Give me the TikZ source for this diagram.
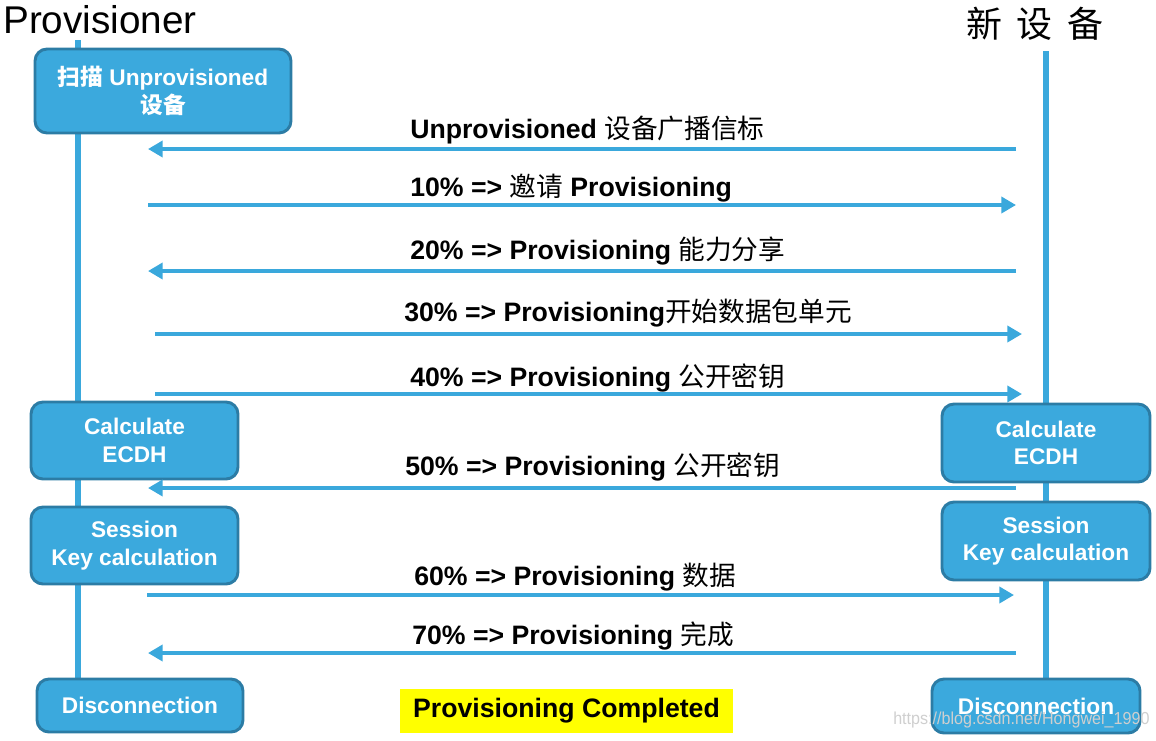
\documentclass[tikz,border=0pt]{standalone}
\usepackage{fontspec}
\setmainfont{Liberation Sans}
\newfontfamily\cjk{Noto Sans CJK SC}
\usetikzlibrary{arrows.meta}
\definecolor{lineblue}{HTML}{3AA8DC}
\definecolor{boxfill}{HTML}{3BA9DD}
\definecolor{boxedge}{HTML}{2C7CA5}
\definecolor{hl}{HTML}{FFFF00}
\definecolor{wmgray}{HTML}{CFCFCF}
\tikzset{
  lifeline/.style={draw=lineblue, line width=4pt},
  msg/.style={draw=lineblue, line width=3.6pt, -{Triangle[length=11pt,width=12pt]}},
  actbox/.style={draw=boxedge, fill=boxfill, line width=2.2pt, rounded corners=9pt,
    text=white, font=\fontsize{17}{20.5}\selectfont\bfseries, align=center, inner sep=0pt},
  msglabel/.style={anchor=west, font=\fontsize{20}{24}\selectfont\bfseries, inner sep=0pt}
}
\begin{document}
\begin{tikzpicture}[x=0.75pt,y=-0.75pt]
\useasboundingbox (0,0) rectangle (1156,740);
% titles
\node[anchor=west, inner sep=0pt, font=\fontsize{29}{32}\selectfont] (ptitle) at (3,20) {Provisioner};
\node[anchor=center, inner sep=0pt, font=\fontsize{27}{30}\selectfont\cjk] (dtitle) at (1035,24) {新\hspace{11pt}设\hspace{11pt}备};
% lifelines
\coordinate (lt) at (78,40); \coordinate (lb) at (78,682);
\coordinate (rt) at (1046,51); \coordinate (rb) at (1046,682);
\draw[lifeline] (lt) -- (lb);
\draw[lifeline] (rt) -- (rb);
% boxes
\node[actbox, minimum width=192pt, minimum height=63pt] (scan) at (163,91) {{\cjk 扫描} Unprovisioned\\{\cjk 设备}};
\node[actbox, minimum width=155.25pt, minimum height=57.75pt] (lcalc) at (134.5,440.5) {Calculate\\ECDH};
\node[actbox, minimum width=155.25pt, minimum height=57.75pt] (lsess) at (134.5,545.5) {Session\\Key calculation};
\node[actbox, minimum width=154.5pt, minimum height=39.75pt] (ldisc) at (140,705.5) {Disconnection};
\node[actbox, minimum width=156pt, minimum height=58.5pt] (rcalc) at (1046,443) {Calculate\\ECDH};
\node[actbox, minimum width=156pt, minimum height=58.5pt] (rsess) at (1046,541) {Session\\Key calculation};
\node[actbox, minimum width=156pt, minimum height=40.5pt] (rdisc) at (1036,706) {Disconnection};
\node[fill=hl, minimum width=249.75pt, minimum height=33pt, inner sep=0pt, font=\fontsize{20}{24}\selectfont\bfseries] (done) at (566.5,711) {\raisebox{-2pt}{Provisioning Completed}};
% message end points
\coordinate (m1a) at (1016,149); \coordinate (m1b) at (148,149);
\coordinate (m2a) at (148,205);  \coordinate (m2b) at (1016,205);
\coordinate (m3a) at (1016,271); \coordinate (m3b) at (148,271);
\coordinate (m4a) at (155,334);  \coordinate (m4b) at (1022,334);
\coordinate (m5a) at (155,394);  \coordinate (m5b) at (1022,394);
\coordinate (m6a) at (1016,488); \coordinate (m6b) at (148,488);
\coordinate (m7a) at (147,595);  \coordinate (m7b) at (1014,595);
\coordinate (m8a) at (1016,653); \coordinate (m8b) at (148,653);
\draw[msg] (m1a) -- (m1b);
\draw[msg] (m2a) -- (m2b);
\draw[msg] (m3a) -- (m3b);
\draw[msg] (m4a) -- (m4b);
\draw[msg] (m5a) -- (m5b);
\draw[msg] (m6a) -- (m6b);
\draw[msg] (m7a) -- (m7b);
\draw[msg] (m8a) -- (m8b);
% labels
\node[msglabel] (l1) at (410,130) {Unprovisioned {\cjk\mdseries 设备广播信标}};
\node[msglabel] (l2) at (410,188) {10\% => {\cjk\mdseries 邀请} Provisioning};
\node[msglabel] (l3) at (410,251) {20\% => Provisioning {\cjk\mdseries 能力分享}};
\node[msglabel] (l4) at (404,313) {30\% => Provisioning{\cjk\mdseries 开始数据包单元}};
\node[msglabel] (l5) at (410,378) {40\% => Provisioning {\cjk\mdseries 公开密钥}};
\node[msglabel] (l6) at (405,467) {50\% => Provisioning {\cjk\mdseries 公开密钥}};
\node[msglabel] (l7) at (414,577) {60\% => Provisioning {\cjk\mdseries 数据}};
\node[msglabel] (l8) at (412,636) {70\% => Provisioning {\cjk\mdseries 完成}};
% watermark (drawn over the box, as in the reference)
\node[anchor=west, inner sep=0pt, text=wmgray, font=\fontsize{13}{14}\selectfont, xscale=0.93] (wm) at (893,720) {https://blog.csdn.net/Hongwei\_1990};
\end{tikzpicture}
\end{document}
